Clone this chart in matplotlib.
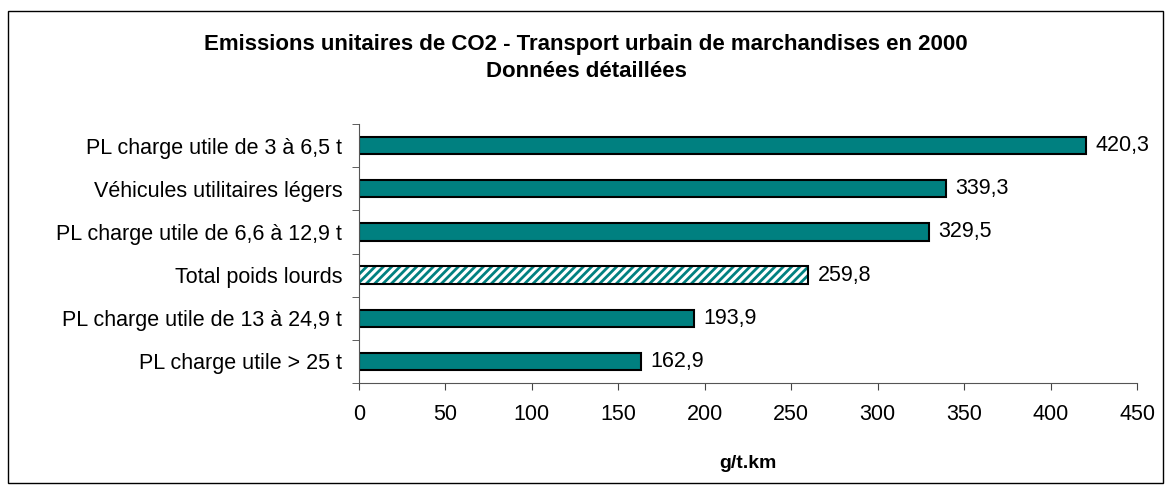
import matplotlib.pyplot as plt
from matplotlib.patches import Rectangle

plt.rcParams['font.family'] = ['Liberation Sans', 'DejaVu Sans']
plt.rcParams['hatch.linewidth'] = 2.0

categories = [
    "PL charge utile de 3 à 6,5 t",
    "Véhicules utilitaires légers",
    "PL charge utile de 6,6 à 12,9 t",
    "Total poids lourds",
    "PL charge utile de 13 à 24,9 t",
    "PL charge utile > 25 t",
]
values = [420.3, 339.3, 329.5, 259.8, 193.9, 162.9]
labels = ["420,3", "339,3", "329,5", "259,8", "193,9", "162,9"]
hatched = [False, False, False, True, False, False]
teal = "#008080"
fs = 15.5

fig = plt.figure(figsize=(11.72, 4.94), dpi=100)
ax = fig.add_axes([359 / 1172, 1 - 383 / 494, (1137 - 359) / 1172, (383 - 124) / 494])

n = len(categories)
ypos = list(range(n))[::-1]
for y, v, lab, h in zip(ypos, values, labels, hatched):
    if h:
        ax.barh(y, v, height=0.4, color="white", edgecolor=teal, hatch="////", linewidth=0)
        ax.barh(y, v, height=0.4, color="none", edgecolor="black", linewidth=1.5)
    else:
        ax.barh(y, v, height=0.4, color=teal, edgecolor="black", linewidth=1.5)
    ax.text(v + 5.5, y, lab, va="center", ha="left", fontsize=fs)

ax.set_xlim(0, 450)
ax.set_ylim(-0.5, n - 0.5)
ax.set_xticks(range(0, 451, 50))
ax.set_yticks(ypos)
ax.set_yticklabels(categories)
ax.set_yticks([i - 0.5 for i in range(n + 1)], minor=True)
ax.tick_params(axis="y", which="major", length=0, pad=12, labelsize=fs)
ax.tick_params(axis="y", which="minor", length=5, color="#444444")
ax.tick_params(axis="x", length=5, pad=10, labelsize=fs, color="#444444")
for s in ["top", "right"]:
    ax.spines[s].set_visible(False)
for s in ["left", "bottom"]:
    ax.spines[s].set_color("#555555")
ax.set_xlabel("g/t.km", fontsize=14, fontweight="bold", labelpad=22)

fig.text(586 / 1172, 1 - 58 / 494,
         "Emissions unitaires de CO2 - Transport urbain de marchandises en 2000\nDonnées détaillées",
         ha="center", va="center", fontsize=16, fontweight="bold", linespacing=1.4)

fig.add_artist(Rectangle((8 / 1172, 1 - 483 / 494), (1163 - 8) / 1172, (483 - 11) / 494,
                         transform=fig.transFigure, fill=False, edgecolor="black", linewidth=1))

fig.savefig("out.png", dpi=100)
